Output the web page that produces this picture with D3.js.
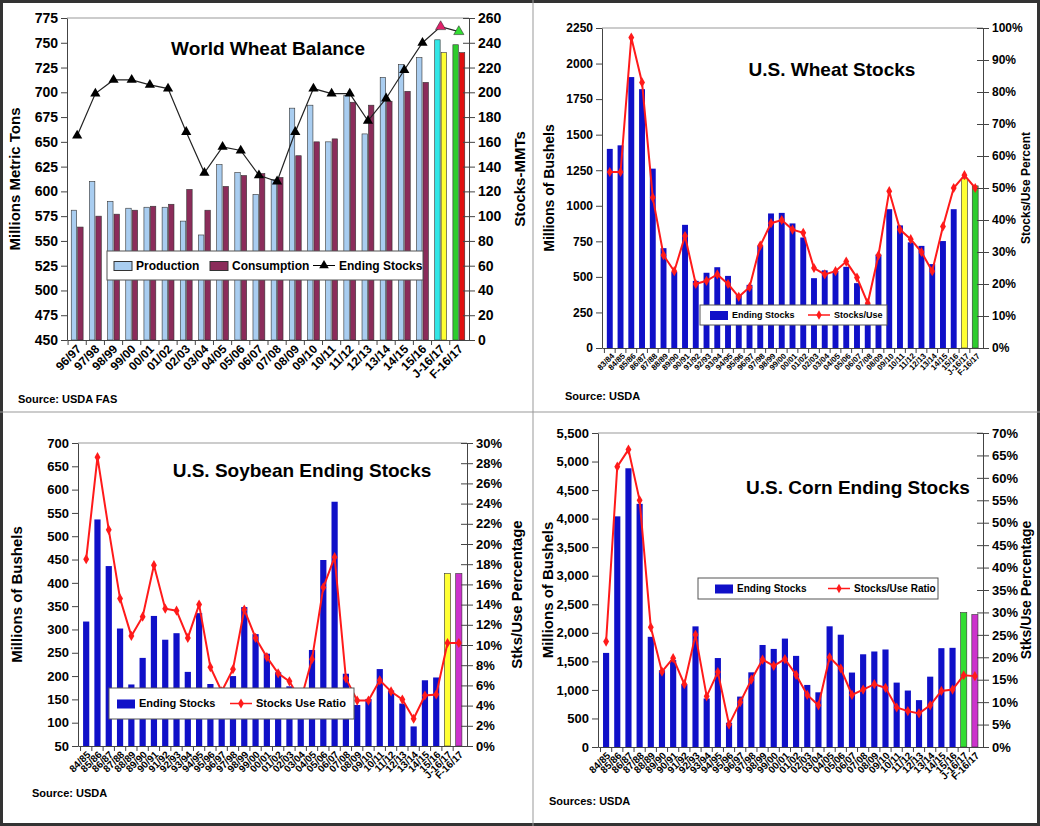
<!DOCTYPE html>
<html>
<head>
<meta charset="utf-8">
<script src="https://cdn.jsdelivr.net/npm/d3@7"></script>
<style>
  body { margin: 0; background: #fff; }
  text { font-family: Arial, "Liberation Sans", sans-serif; }
</style>
</head>
<body>
<div id="chart"></div>
<script>
// World wheat balance
var wwYears = ["96/97","97/98","98/99","99/00","00/01","01/02","02/03","03/04","04/05","05/06","06/07","07/08","08/09","09/10","10/11","11/12","12/13","13/14","14/15","15/16","J-16/17","F-16/17"];
var wwProduction = [581,610,590,583,584,584,570,556,627,619,597,612,684,687,650,697,658,715,728,735,753,748];
var wwConsumption = [564,575,577,581,585,587,602,581,605,616,618,614,636,650,653,690,687,691,701,710,740,740];
var wwStocks = [165,199,210,210,206,203,168,135,156,153,133,128,168,203,199,199,177,195,218,240,253,249];

// US wheat
var uwYears = ["83/84","84/85","85/86","86/87","87/88","88/89","89/90","90/91","91/92","92/93","93/94","94/95","95/96","96/97","97/98","98/99","99/00","00/01","01/02","02/03","03/04","04/05","05/06","06/07","07/08","08/09","09/10","10/11","11/12","12/13","13/14","14/15","15/16","J-16/17","F-16/17"];
var uwStocks = [1400,1425,1905,1820,1261,702,536,866,472,529,568,507,376,444,720,946,950,876,777,491,546,540,571,456,306,657,976,862,743,718,590,752,976,1190,1140];
var uwRatio = [55,55,97,83,47,29,24,35,20,21,23,20,16,19,32,39,40,37,36,25,23,24,27,22,14,29,49,37,34,30,24,38,50,54,50];

// US soybeans
var sbYears = ["84/85","85/86","86/87","87/88","88/89","89/90","90/91","91/92","92/93","93/94","94/95","95/96","96/97","97/98","98/99","99/00","00/01","01/02","02/03","03/04","04/05","05/06","06/07","07/08","08/09","09/10","10/11","11/12","12/13","13/14","14/15","15/16","J-16/17","F-16/17"];
var sbStocks = [317,536,436,302,182,239,329,278,292,209,335,183,132,200,348,290,248,208,178,112,256,449,574,205,138,151,215,169,141,92,191,197,420,420];
var sbRatio = [18.5,28.6,21.4,14.6,10.9,12.8,17.9,13.6,13.4,10.7,14.0,7.8,5.4,7.6,13.5,10.7,8.8,7.2,6.4,4.5,8.6,15.7,18.7,6.7,4.5,4.5,6.5,5.4,4.6,2.7,5.0,5.1,10.2,10.2];

// US corn
var cnYears = sbYears;
var cnStocks = [1648,4040,4882,4259,1930,1344,1521,1100,2113,850,1558,426,883,1308,1787,1718,1899,1596,1087,958,2114,1967,1304,1624,1673,1708,1128,989,821,1232,1731,1737,2355,2320];
var cnRatio = [23.5,62.5,66.3,55.0,26.7,16.8,19.8,14.0,25.0,11.3,16.7,5.0,10.0,15.0,19.5,18.1,19.6,16.1,11.6,9.3,20.0,17.5,11.6,12.8,14.0,13.2,8.8,8.0,7.5,9.3,12.5,12.8,16.0,15.8];

var W = 1040, H = 826;
var svg = d3.select("#chart").append("svg").attr("width", W).attr("height", H);
svg.append("rect").attr("x", 1.5).attr("y", 1.5).attr("width", W - 3).attr("height", H - 3)
  .attr("fill", "#fff").attr("stroke", "#333").attr("stroke-width", 3);
svg.append("line").attr("x1", 533).attr("x2", 533).attr("y1", 0).attr("y2", H).attr("stroke", "#999");
svg.append("line").attr("x1", 0).attr("x2", W).attr("y1", 412).attr("y2", 412).attr("stroke", "#999");

function axes(p, x, yL, yR, o) {
  var g = svg.append("g");
  // frame
  g.append("line").attr("x1", o.left).attr("x2", o.right).attr("y1", o.top).attr("y2", o.top).attr("stroke", "#999");
  var la = g.append("g").attr("transform", `translate(${o.left},0)`)
    .call(d3.axisLeft(yL).tickValues(o.lTicks).tickSize(6).tickSizeOuter(0).tickFormat(o.lFmt || d3.format("d")));
  var ra = g.append("g").attr("transform", `translate(${o.right},0)`)
    .call(d3.axisRight(yR).tickValues(o.rTicks).tickSize(6).tickSizeOuter(0).tickFormat(o.rFmt || d3.format("d")));
  [la, ra].forEach(function(a) {
    a.selectAll("line").attr("stroke", "#444");
    a.select(".domain").attr("stroke", "#444");
    a.selectAll("text").attr("font-size", o.tickSize).attr("font-weight", "bold").attr("fill", "#000");
  });
  ra.selectAll(".tick line").attr("x1", -6);
  var ba = g.append("g").attr("transform", `translate(0,${o.bottom})`)
    .call(d3.axisBottom(x).tickSize(5).tickSizeOuter(0));
  ba.select(".domain").attr("stroke", "#444");
  ba.selectAll(".tick line").attr("transform", `translate(${-x.step() / 2},0)`).attr("stroke", "#444");
  ba.selectAll("text").attr("font-size", o.xSize).attr("font-weight", "bold").attr("fill", "#000")
    .attr("text-anchor", "end").attr("dx", "-0.3em").attr("dy", "0.2em")
    .attr("transform", "rotate(-45)").attr("y", 8).attr("x", 0);
  // labels
  svg.append("text").attr("transform", `translate(${o.lLabelX},${(o.top + o.bottom) / 2}) rotate(-90)`)
    .attr("text-anchor", "middle").attr("font-size", o.labelSize).attr("font-weight", "bold").text(o.lLabel);
  svg.append("text").attr("transform", `translate(${o.rLabelX},${(o.top + o.bottom) / 2}) rotate(-90)`)
    .attr("text-anchor", "middle").attr("font-size", o.rLabelSize || o.labelSize).attr("font-weight", "bold").text(o.rLabel);
  svg.append("text").attr("x", o.titleX).attr("y", o.titleY).attr("text-anchor", "middle")
    .attr("font-size", 19).attr("font-weight", "bold").text(o.title);
  svg.append("text").attr("x", o.srcX).attr("y", o.srcY).attr("font-size", 11).attr("font-weight", "bold").text(o.source);
}

function legend(o, items) {
  var g = svg.append("g");
  g.append("rect").attr("x", o.x).attr("y", o.y).attr("width", o.w).attr("height", o.h)
    .attr("fill", "#fff").attr("stroke", "#555");
  items.forEach(function(it) {
    var cy = o.y + o.h / 2;
    if (it.type === "bar") {
      g.append("rect").attr("x", it.x).attr("y", cy - 4).attr("width", 18).attr("height", 9)
        .attr("fill", it.color).attr("stroke", it.stroke || "none");
    } else {
      g.append("line").attr("x1", it.x).attr("x2", it.x + 22).attr("y1", cy).attr("y2", cy)
        .attr("stroke", it.color).attr("stroke-width", it.sw || 1.5);
      g.append("path").attr("transform", `translate(${it.x + 11},${cy})`)
        .attr("d", d3.symbol(it.sym, it.symSize)()).attr("fill", it.color);
    }
    g.append("text").attr("x", it.x + (it.type === "bar" ? 22 : 26)).attr("y", cy + o.fs * 0.36)
      .attr("font-size", o.fs).attr("font-weight", "bold").text(it.label);
  });
}

// ---------- Panel 1: World Wheat Balance ----------
(function() {
  var o = {left: 67, right: 469, top: 18, bottom: 340};
  var x = d3.scaleBand().domain(wwYears).range([o.left, o.right]).padding(0.12);
  var yL = d3.scaleLinear().domain([450, 775]).range([o.bottom, o.top]);
  var yR = d3.scaleLinear().domain([0, 260]).range([o.bottom, o.top]);
  var bw = x.bandwidth() * 0.34;
  var pCol = wwYears.map(function(d, i) { return i === 20 ? "#33e6e6" : i === 21 ? "#2ecc2e" : "#a9cdf0"; });
  var cCol = wwYears.map(function(d, i) { return i === 20 ? "#ffff33" : i === 21 ? "#e01010" : "#8b2c5a"; });
  svg.selectAll(".wp").data(wwProduction).enter().append("rect")
    .attr("x", function(d, i) { return x(wwYears[i]) + x.bandwidth() / 2 - bw - 0.5; })
    .attr("y", function(d) { return yL(d); }).attr("width", bw).attr("height", function(d) { return o.bottom - yL(d); })
    .attr("fill", function(d, i) { return pCol[i]; }).attr("stroke", "#333").attr("stroke-width", 0.6);
  svg.selectAll(".wc").data(wwConsumption).enter().append("rect")
    .attr("x", function(d, i) { return x(wwYears[i]) + x.bandwidth() / 2 + 0.5; })
    .attr("y", function(d) { return yL(d); }).attr("width", bw).attr("height", function(d) { return o.bottom - yL(d); })
    .attr("fill", function(d, i) { return cCol[i]; }).attr("stroke", "#333").attr("stroke-width", 0.6);
  var line = d3.line().x(function(d, i) { return x(wwYears[i]) + x.bandwidth() / 2; }).y(function(d) { return yR(d); });
  svg.append("path").attr("d", line(wwStocks)).attr("fill", "none").attr("stroke", "#222").attr("stroke-width", 1.2);
  svg.selectAll(".ws").data(wwStocks).enter().append("path")
    .attr("transform", function(d, i) { return `translate(${x(wwYears[i]) + x.bandwidth() / 2},${yR(d)})`; })
    .attr("d", d3.symbol(d3.symbolTriangle, 45)())
    .attr("fill", function(d, i) { return i === 20 ? "#e0206a" : i === 21 ? "#33dd33" : "#000"; })
    .attr("stroke", function(d, i) { return i >= 20 ? "#333" : "none"; }).attr("stroke-width", 0.6);
  axes(svg, x, yL, yR, Object.assign(o, {
    lTicks: d3.range(450, 776, 25), rTicks: d3.range(0, 261, 20), tickSize: 14, xSize: 12,
    lLabel: "Millions Metric Tons", lLabelX: 20, rLabel: "Stocks-MMTs", rLabelX: 525, labelSize: 15,
    title: "World Wheat Balance", titleX: 268, titleY: 55, source: "Source: USDA FAS", srcX: 18, srcY: 403
  }));
  legend({x: 107, y: 251, w: 316, h: 29, fs: 12}, [
    {type: "bar", x: 114, color: "#a9cdf0", stroke: "#333", label: "Production"},
    {type: "bar", x: 210, color: "#8b2c5a", stroke: "#333", label: "Consumption"},
    {type: "line", x: 313, color: "#000", sym: d3.symbolTriangle, symSize: 40, sw: 1, label: "Ending Stocks"}
  ]);
})();

// ---------- Generic stocks panel ----------
function stockPanel(c) {
  var o = c.o;
  var x = d3.scaleBand().domain(c.years).range([o.left, o.right]).padding(0.45);
  var yL = d3.scaleLinear().domain(c.lDomain).range([o.bottom, o.top]);
  var yR = d3.scaleLinear().domain(c.rDomain).range([o.bottom, o.top]);
  var n = c.years.length;
  svg.selectAll(null).data(c.stocks).enter().append("rect")
    .attr("x", function(d, i) { return x(c.years[i]); }).attr("y", function(d) { return yL(d); })
    .attr("width", x.bandwidth()).attr("height", function(d) { return o.bottom - yL(d); })
    .attr("fill", function(d, i) { return i === n - 2 ? c.jCol : i === n - 1 ? c.fCol : "#1010c8"; })
    .attr("stroke", function(d, i) { return i >= n - 2 ? "#333" : "none"; }).attr("stroke-width", 0.6);
  var line = d3.line().x(function(d, i) { return x(c.years[i]) + x.bandwidth() / 2; }).y(function(d) { return yR(d); });
  svg.append("path").attr("d", line(c.ratio)).attr("fill", "none").attr("stroke", "#ff1a1a").attr("stroke-width", 2);
  svg.selectAll(null).data(c.ratio).enter().append("path")
    .attr("transform", function(d, i) { return `translate(${x(c.years[i]) + x.bandwidth() / 2},${yR(d)})`; })
    .attr("d", d3.symbol(d3.symbolDiamond, 30)()).attr("fill", "#ff1a1a");
  axes(svg, x, yL, yR, Object.assign(o, c.ax));
  legend(c.leg, c.legItems);
}

stockPanel({
  years: uwYears, stocks: uwStocks, ratio: uwRatio, jCol: "#ffff33", fCol: "#2ecc2e",
  o: {left: 602, right: 983, top: 28, bottom: 348},
  lDomain: [0, 2250], rDomain: [0, 100],
  ax: {lTicks: d3.range(0, 2251, 250), rTicks: d3.range(0, 101, 10), rFmt: function(d) { return d + "%"; },
       tickSize: 12, xSize: 8, lLabel: "Millions of Bushels", lLabelX: 554, rLabel: "Stocks/Use Percent", rLabelX: 1030,
       labelSize: 14, rLabelSize: 12, title: "U.S. Wheat Stocks", titleX: 832, titleY: 76,
       source: "Source: USDA", srcX: 565, srcY: 400},
  leg: {x: 700, y: 305, w: 187, h: 20, fs: 9},
  legItems: [{type: "bar", x: 710, color: "#1010c8", label: "Ending Stocks"},
             {type: "line", x: 808, color: "#ff1a1a", sym: d3.symbolDiamond, symSize: 25, label: "Stocks/Use"}]
});

stockPanel({
  years: sbYears, stocks: sbStocks, ratio: sbRatio, jCol: "#ffff33", fCol: "#cc33cc",
  o: {left: 78, right: 467, top: 443, bottom: 746},
  lDomain: [50, 700], rDomain: [0, 30],
  ax: {lTicks: d3.range(50, 701, 50), rTicks: d3.range(0, 31, 2), rFmt: function(d) { return d + "%"; },
       tickSize: 13, xSize: 10, lLabel: "Millions of Bushels", lLabelX: 22, rLabel: "Stks/Use Percentage", rLabelX: 522,
       labelSize: 15, title: "U.S. Soybean Ending Stocks", titleX: 302, titleY: 477,
       source: "Source: USDA", srcX: 32, srcY: 797},
  leg: {x: 109, y: 688, w: 245, h: 31, fs: 11},
  legItems: [{type: "bar", x: 117, color: "#1010c8", label: "Ending Stocks"},
             {type: "line", x: 230, color: "#ff1a1a", sym: d3.symbolDiamond, symSize: 30, label: "Stocks Use Ratio"}]
});

stockPanel({
  years: cnYears, stocks: cnStocks, ratio: cnRatio, jCol: "#33dd33", fCol: "#cc33cc",
  o: {left: 598, right: 983, top: 433, bottom: 747},
  lDomain: [0, 5500], rDomain: [0, 70],
  ax: {lTicks: d3.range(0, 5501, 500), lFmt: d3.format(","), rTicks: d3.range(0, 71, 5), rFmt: function(d) { return d + "%"; },
       tickSize: 13, xSize: 10, lLabel: "Millions of Bushels", lLabelX: 553, rLabel: "Stks/Use Percentage", rLabelX: 1031,
       labelSize: 15, rLabelSize: 14, title: "U.S. Corn Ending Stocks", titleX: 858, titleY: 494,
       source: "Sources: USDA", srcX: 549, srcY: 805},
  leg: {x: 698, y: 578, w: 240, h: 21, fs: 10},
  legItems: [{type: "bar", x: 715, color: "#1010c8", label: "Ending Stocks"},
             {type: "line", x: 828, color: "#ff1a1a", sym: d3.symbolDiamond, symSize: 25, label: "Stocks/Use Ratio"}]
});
</script>
</body>
</html>
